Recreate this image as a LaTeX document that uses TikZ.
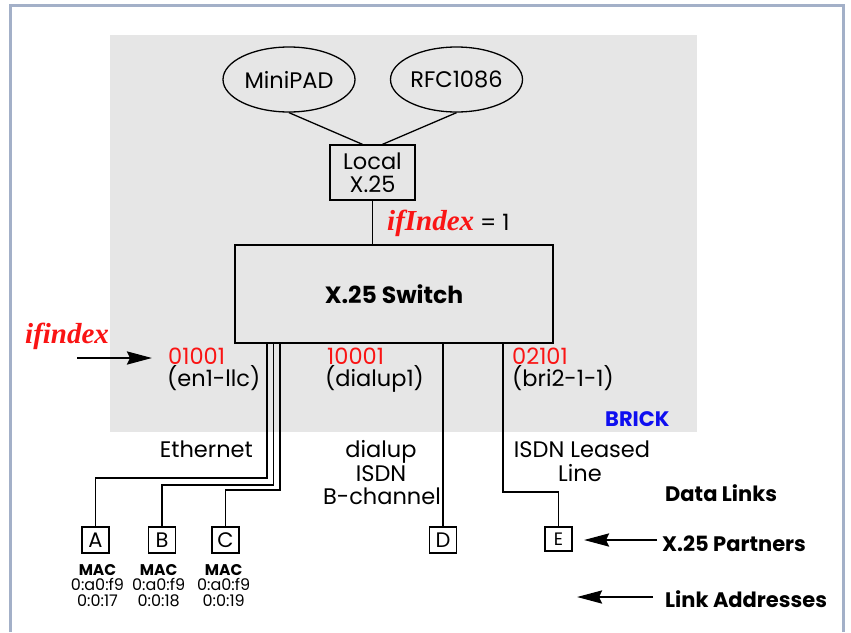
\documentclass[tikz,border=0pt]{standalone}
\usepackage{fontspec}
\setmainfont{Poppins}
\newfontfamily\tnr{Liberation Serif}
\usetikzlibrary{arrows.meta,shapes.geometric}
\definecolor{framec}{RGB}{163,176,200}
\definecolor{brickgray}{RGB}{230,230,230}
\definecolor{idxred}{RGB}{250,20,20}
\definecolor{brickblue}{RGB}{15,15,240}
\tikzset{
  txt/.style={inner sep=0pt, font=\fontsize{22.5}{25}\selectfont},
  bold/.style={inner sep=0pt, font=\fontsize{21}{24}\selectfont\bfseries},
  red/.style={text=idxred},
  ell/.style={draw, ellipse, line width=1.3pt, minimum width=132pt, minimum height=65pt, inner sep=0pt, font=\fontsize{22.5}{25}\selectfont},
  box/.style={draw, line width=1.3pt, inner sep=0pt},
  partner/.style={draw, line width=1.3pt, inner sep=0pt, minimum width=27pt, minimum height=26pt, font=\fontsize{21}{23}\selectfont},
  wire/.style={line width=1.3pt},
  bigarrow/.style={line width=2.6pt, -{Stealth[length=25pt,width=13pt,inset=3pt]}},
  mac/.style={inner sep=0pt, anchor=base, font=\fontsize{16}{17}\selectfont},
  macb/.style={inner sep=0pt, anchor=base, font=\fontsize{15.5}{17}\selectfont\bfseries},
  idx/.style={text=idxred, font=\fontsize{29}{32}\selectfont\tnr\bfseries\itshape}
}
\begin{document}
\begin{tikzpicture}[x=1pt,y=-1pt]
\useasboundingbox (0,0) rectangle (851,632);
% frame
\draw[framec, line width=3pt] (10.5,632) -- (10.5,5.5) -- (843.5,5.5) -- (843.5,632);
% brick area
\node[fill=brickgray, minimum width=587pt, minimum height=397pt, anchor=north west, inner sep=0pt] (brick) at (110,35) {};
% ellipses
\node[ell] (mini) at (289,79.5) {MiniPAD};
\node[ell] (rfc) at (456.5,79.5) {RFC1086};
\node[box, minimum width=85pt, minimum height=55pt, align=center, font=\fontsize{22.5}{23}\selectfont] (local) at (372.5,172.5) {Local\\X.25};
\draw[wire] (mini.south) -- ([xshift=-10pt]local.north);
\draw[wire] (rfc.south) -- ([xshift=10pt]local.north);
% switch
\node[box, minimum width=318pt, minimum height=98pt, font=\fontsize{23.5}{28}\selectfont\bfseries] (sw) at (394,294) {X.25 Switch};
\draw[wire] (local.south) -- (local.south |- sw.north);
\node[anchor=base west, inner sep=0pt, font=\fontsize{22.5}{25}\selectfont] (ifidx) at (387,230) {{\tnr\fontsize{29}{32}\selectfont\bfseries\itshape\color{idxred}ifIndex} = 1};
% ifindex left
\node[idx, anchor=base west, inner sep=0pt] (ifindex) at (25,343) {ifindex};
\coordinate (ia) at (77,358);
\coordinate (ib) at (152,358);
\draw[bigarrow] (ia) -- (ib);
% port labels
\node[txt, red, anchor=base west] (p1) at (168,364) {01001};
\node[txt, anchor=base west] (p1n) at (167,386) {(en1-llc)};
\node[txt, red, anchor=base west] (p2) at (327,364) {10001};
\node[txt, anchor=base west] (p2n) at (325,386) {(dialup1)};
\node[txt, red, anchor=base west] (p3) at (512,364) {02101};
\node[txt, anchor=base west] (p3n) at (512,386) {(bri2-1-1)};
\node[bold, text=brickblue, anchor=base west] (brk) at (605,426) {BRICK};
% link labels
\node[txt, anchor=base east] (eth) at (253,457) {Ethernet};
\node[txt, anchor=base] (dl1) at (381,457) {dialup};
\node[txt, anchor=base] (dl2) at (381,481) {ISDN};
\node[txt, anchor=base] (dl3) at (382,504) {B-channel};
\node[txt, anchor=base] (is1) at (582,457) {ISDN Leased};
\node[txt, anchor=base] (is2) at (580,481) {Line};
% partners
\node[partner] (a) at (95.5,540) {A};
\node[partner] (b) at (162,540) {B};
\node[partner] (c) at (225.5,540) {C};
\node[partner] (d) at (443,540) {D};
\node[partner, minimum height=24pt, font=\fontsize{18}{20}\selectfont] (e) at (558.5,539) {E};
% wires
\coordinate (bA) at (267,478);
\coordinate (bB) at (273.3,485);
\coordinate (bC) at (280,490);
\coordinate (bE) at (503,492);
\draw[wire] (sw.south -| bA) -- (bA) -| (a.north);
\draw[wire] (sw.south -| bB) -- (bB) -| (b.north);
\draw[wire] (sw.south -| bC) -- (bC) -| (c.north);
\draw[wire] (sw.south -| d.north) -- (d.north);
\draw[wire] (sw.south -| bE) -- (bE) -| (e.north);
% MAC labels
\node[macb] (ma1) at (97.5,575) {MAC};
\node[mac] (ma2) at (97.5,590) {0:a0:f9};
\node[mac] (ma3) at (97.5,606) {0:0:17};
\node[macb] (mb1) at (158.7,575) {MAC};
\node[mac] (mb2) at (158.7,590) {0:a0:f9};
\node[mac] (mb3) at (158.7,606) {0:0:18};
\node[macb] (mc1) at (223.7,575) {MAC};
\node[mac] (mc2) at (223.7,590) {0:a0:f9};
\node[mac] (mc3) at (223.7,606) {0:0:19};
% legend
\node[bold, anchor=base west] (dlk) at (665,501) {Data Links};
\node[bold, anchor=base west] (xp) at (662,551) {X.25 Partners};
\node[bold, anchor=base west] (la) at (665,607) {Link Addresses};
\coordinate (xa1) at (657,540);
\coordinate (xa2) at (584,540);
\draw[bigarrow] (xa1) -- (xa2);
\coordinate (la1) at (653,597);
\coordinate (la2) at (577,597);
\draw[bigarrow] (la1) -- (la2);
\end{tikzpicture}
\end{document}
